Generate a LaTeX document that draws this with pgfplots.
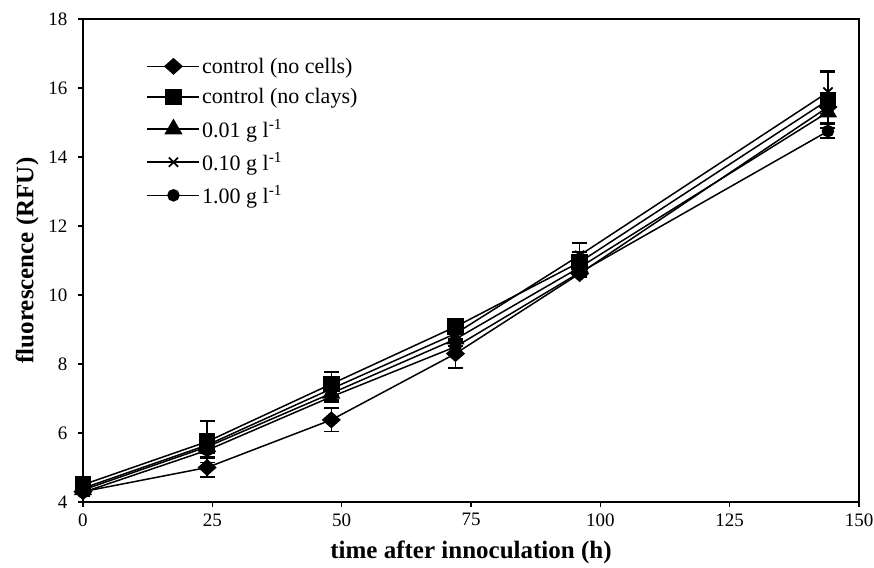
\documentclass[border=0pt]{standalone}
\usepackage{fontspec}
\setmainfont{Liberation Serif}
\usepackage{pgfplots}
\pgfplotsset{compat=1.18}
\begin{document}
\begin{tikzpicture}
\begin{axis}[
  scale only axis,
  width=776bp, height=483bp,
  xmin=0, xmax=150, ymin=4, ymax=18,
  xtick={0,25,50,75,100,125,150},
  ytick={4,6,8,10,12,14,16,18},
  xtick pos=bottom, ytick pos=left,
  tick align=outside,
  major tick length=5bp,
  axis line style={line width=1.8bp},
  every tick/.style={line width=1.3bp, black},
  /pgf/number format/assume math mode=true,
  tick label style={font=\fontsize{19bp}{21bp}\selectfont},
  xticklabel style={yshift=-3bp},
  yticklabel style={xshift=-7bp},
  xlabel={\textbf{time after innoculation (h)}},
  ylabel={\textbf{fluorescence (RFU)}},
  label style={font=\fontsize{25bp}{27bp}\selectfont},
  xlabel style={yshift=-8bp},
  ylabel style={yshift=3bp},
  legend cell align=left,
  legend style={draw=none, fill=none, at={(0.078,0.928)}, anchor=north west,
     font=\fontsize{22bp}{24bp}\selectfont, row sep=10bp,
     /tikz/every even column/.append style={column sep=2bp}},
  legend image code/.code={
     \draw[mark repeat=2,mark phase=2,line width=1.5bp,#1] plot coordinates {(0bp,0bp)(26bp,0bp)(52bp,0bp)};},
  error bars/error bar style={line width=1.5bp, black},
  error bars/error mark options={rotate=90, mark size=7.5bp, line width=1.5bp, black},
]
\addplot[black, line width=1.5bp, mark=diamond*, mark size=7.5bp, mark options={solid, fill=black, xscale=1.5},
  error bars/.cd, y dir=both, y explicit]
  coordinates {(0,4.3)+-(0,0.1) (24,5.0)+-(0,0.28) (48,6.38)+-(0,0.34) (72,8.3)+-(0,0.42) (96,10.62)+-(0,0.1) (144,15.45)+-(0,0.25)};
\addlegendentry{control (no cells)}
\addplot[black, line width=1.5bp, mark=square*, mark size=7.5bp, mark options={solid, fill=black},
  error bars/.cd, y dir=both, y explicit]
  coordinates {(0,4.5)+-(0,0.15) (24,5.75)+-(0,0.6) (48,7.42)+-(0,0.35) (72,9.08)+-(0,0.12) (96,10.95)+-(0,0.3) (144,15.65)+-(0,0.81)};
\addlegendentry{control (no clays)}
\addplot[black, line width=1.5bp, mark=triangle*, mark size=9bp, mark options={solid, fill=black},
  error bars/.cd, y dir=both, y explicit]
  coordinates {(0,4.35)+-(0,0.1) (24,5.6)+-(0,0.2) (48,7.15)+-(0,0.2) (72,8.72)+-(0,0.2) (96,10.8)+-(0,0.2) (144,15.3)+-(0,0.3)};
\addlegendentry{0.01 g l\textsuperscript{-1}}
\addplot[black, line width=1.5bp, mark=x, mark size=6.5bp, mark options={solid, line width=1.8bp},
  error bars/.cd, y dir=both, y explicit]
  coordinates {(0,4.4)+-(0,0.1) (24,5.65)+-(0,0.2) (48,7.28)+-(0,0.2) (72,8.88)+-(0,0.2) (96,11.15)+-(0,0.35) (144,15.88)+-(0,0.62)};
\addlegendentry{0.10 g l\textsuperscript{-1}}
\addplot[black, line width=1.5bp, mark=*, mark size=5.5bp, mark options={solid, fill=black},
  error bars/.cd, y dir=both, y explicit]
  coordinates {(0,4.28)+-(0,0.1) (24,5.5)+-(0,0.2) (48,7.05)+-(0,0.15) (72,8.5)+-(0,0.2) (96,10.65)+-(0,0.15) (144,14.75)+-(0,0.2)};
\addlegendentry{1.00 g l\textsuperscript{-1}}
\end{axis}
\pgfresetboundingbox
\path[use as bounding box] ([shift={(-83bp,-66bp)}]current axis.south west) rectangle ([shift={(15bp,19bp)}]current axis.north east);
\end{tikzpicture}
\end{document}
